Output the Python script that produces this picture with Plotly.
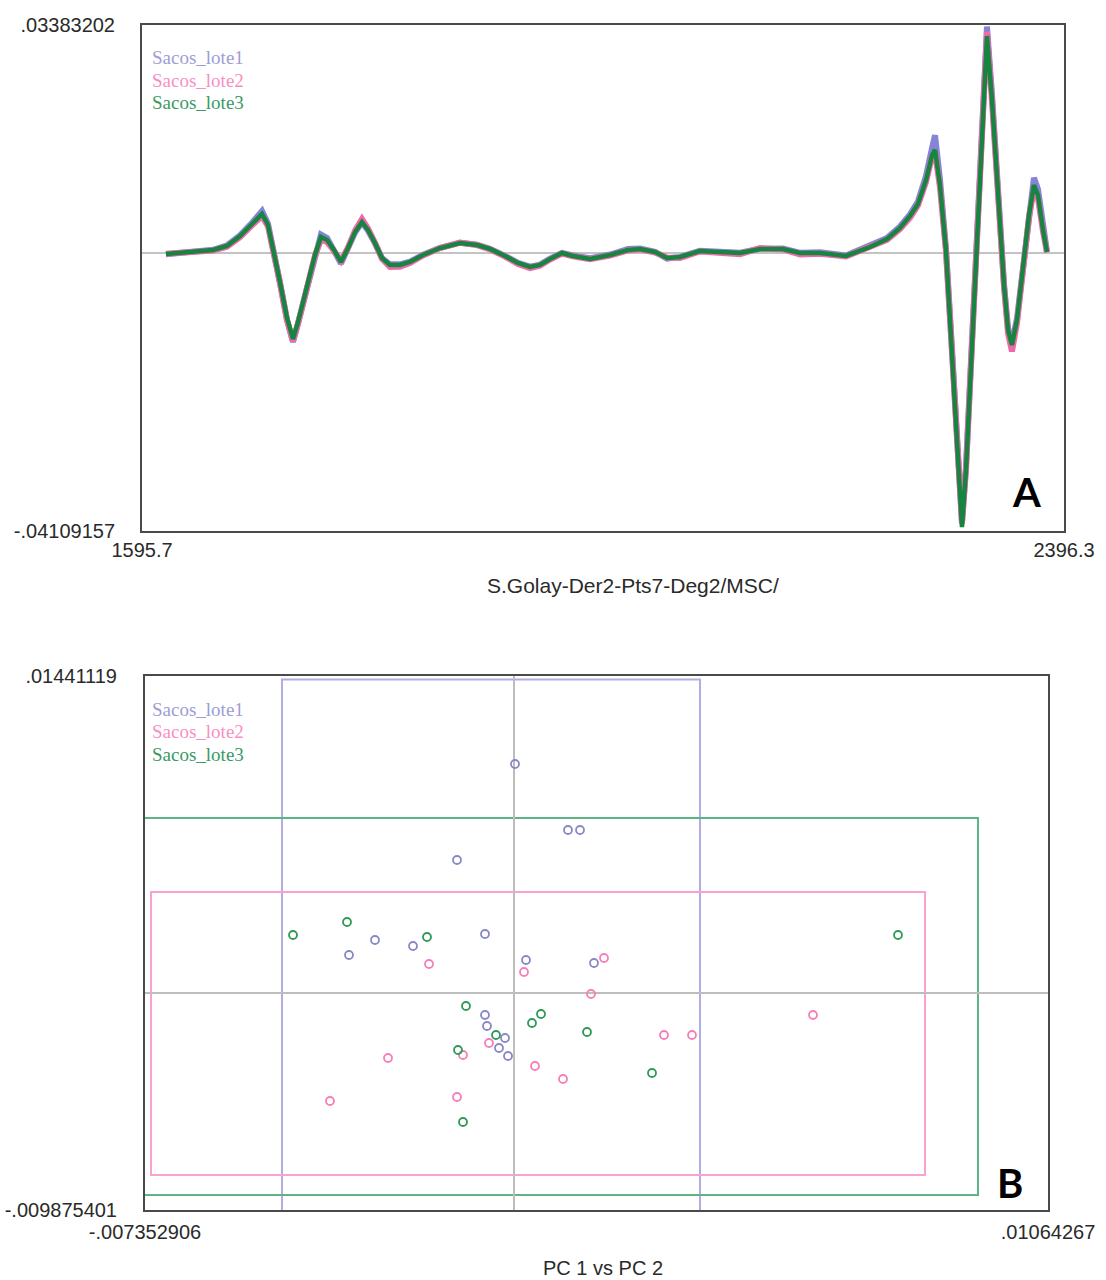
import plotly.graph_objects as go

# ---------------- Panel A: pretreated NIR spectra ----------------
wavelength = [1616.5, 1628.7, 1641.7, 1657.4, 1669.5, 1680.8, 1691.2, 1699.9, 1705.1, 1709.5,
              1715.5, 1721.6, 1726.8, 1731.2, 1735.5, 1740.7, 1745.9, 1751.1, 1756.4, 1762.4,
              1768.5, 1774.6, 1780.7, 1786.7, 1791.9, 1798.0, 1804.1, 1811.0, 1819.7, 1828.4,
              1839.7, 1854.5, 1871.8, 1886.6, 1897.9, 1910.9, 1922.2, 1932.6, 1941.3, 1950.0,
              1960.4, 1969.9, 1984.7, 2002.1, 2017.7, 2028.1, 2041.2, 2051.6, 2062.9, 2080.2,
              2097.6, 2115.0, 2132.3, 2152.3, 2167.1, 2184.4, 2207.0, 2227.8, 2242.6, 2253.9,
              2262.6, 2269.5, 2276.5, 2281.7, 2284.3, 2288.6, 2293.8, 2299.0, 2303.4, 2307.7,
              2311.2, 2315.5, 2320.7, 2325.1, 2329.4, 2333.8, 2339.0, 2344.2, 2347.7, 2351.1,
              2355.5, 2360.7, 2365.9, 2370.2, 2373.7, 2378.1, 2381.5]

spec_lote1 = [-0.00010, 0.00005, 0.00025, 0.00055, 0.00120, 0.00270, 0.00455, 0.00630, 0.00440, 0.00090,
              -0.00430, -0.00980, -0.01310, -0.01030, -0.00740, -0.00350, 0.00000, 0.00280, 0.00230, 0.00060,
              -0.00150, 0.00080, 0.00310, 0.00460, 0.00340, 0.00150, -0.00070, -0.00160, -0.00160, -0.00120,
              -0.00020, 0.00085, 0.00160, 0.00130, 0.00070, -0.00035, -0.00140, -0.00195, -0.00165, -0.00075,
              0.00010, -0.00030, -0.00070, -0.00015, 0.00065, 0.00075, 0.00025, -0.00075, -0.00050, 0.00040,
              0.00020, 0.00010, 0.00070, 0.00075, 0.00010, 0.00020, -0.00030, 0.00110, 0.00230, 0.00400,
              0.00580, 0.00770, 0.01150, 0.01560, 0.01750, 0.01100, 0.00080, -0.01400, -0.02580, -0.03980,
              -0.03150, -0.01700, 0.00080, 0.01900, 0.03360, 0.02350, 0.00820, -0.00450, -0.01100, -0.01320,
              -0.00960, -0.00220, 0.00600, 0.01120, 0.00950, 0.00380, 0.00030]

spec_lote2 = [-0.00005, 0.00010, 0.00020, 0.00045, 0.00100, 0.00240, 0.00415, 0.00555, 0.00400, 0.00070,
              -0.00440, -0.00990, -0.01300, -0.01040, -0.00750, -0.00370, -0.00030, 0.00200, 0.00170, 0.00040,
              -0.00110, 0.00090, 0.00340, 0.00510, 0.00370, 0.00160, -0.00080, -0.00200, -0.00195, -0.00140,
              -0.00030, 0.00080, 0.00160, 0.00125, 0.00060, -0.00045, -0.00155, -0.00215, -0.00180, -0.00090,
              0.00000, -0.00040, -0.00085, -0.00030, 0.00045, 0.00060, 0.00015, -0.00060, -0.00065, 0.00030,
              0.00010, -0.00010, 0.00080, 0.00060, -0.00015, -0.00005, -0.00045, 0.00090, 0.00200, 0.00360,
              0.00530, 0.00710, 0.01060, 0.01430, 0.01500, 0.00980, 0.00030, -0.01450, -0.02600, -0.04000,
              -0.03200, -0.01740, 0.00040, 0.01800, 0.03280, 0.02250, 0.00770, -0.00490, -0.01180, -0.01450,
              -0.01030, -0.00270, 0.00540, 0.00950, 0.00820, 0.00320, 0.00015]

spec_lote3 = [-0.00007, 0.00007, 0.00022, 0.00052, 0.00111, 0.00259, 0.00437, 0.00585, 0.00422, 0.00081,
              -0.00422, -0.00955, -0.01266, -0.01014, -0.00733, -0.00363, -0.00022, 0.00244, 0.00200, 0.00052,
              -0.00126, 0.00081, 0.00318, 0.00466, 0.00348, 0.00155, -0.00067, -0.00170, -0.00170, -0.00126,
              -0.00022, 0.00081, 0.00155, 0.00126, 0.00067, -0.00037, -0.00141, -0.00200, -0.00170, -0.00081,
              0.00007, -0.00037, -0.00081, -0.00022, 0.00052, 0.00067, 0.00022, -0.00067, -0.00052, 0.00037,
              0.00022, 0.00007, 0.00067, 0.00067, 0.00007, 0.00007, -0.00037, 0.00096, 0.00215, 0.00378,
              0.00555, 0.00733, 0.01088, 0.01458, 0.01533, 0.01014, 0.00052, -0.01429, -0.02613, -0.04050,
              -0.03206, -0.01725, 0.00052, 0.01829, 0.03220, 0.02273, 0.00792, -0.00466, -0.01133, -0.01355,
              -0.00985, -0.00244, 0.00570, 0.01014, 0.00866, 0.00348, 0.00022]

spec_xrange = [1595.7, 2396.3]
spec_yrange = [-0.04109157, 0.03383202]
spec_xticks = ["1595.7", "2396.3"]
spec_yticks = ["-.04109157", ".03383202"]

# ---------------- Panel B: PCA scores ----------------
pc1_lote1 = [0.0000207, 0.0010769, 0.0013161, -0.0011351, -0.0032874, -0.0027693, -0.0020120, -0.0005771,
             0.0002399, 0.0015951, -0.0005771, -0.0005373, -0.0001786, -0.0002981, -0.0001188]
pc2_lote1 = [0.0104089, 0.0074072, 0.0074072, 0.0060428, 0.0017221, 0.0024043, 0.0021315, 0.0026772,
             0.0014947, 0.0013583, -0.0010067, -0.0015070, -0.0020527, -0.0025075, -0.0028714]

pc1_lote2 = [-0.0016932, -0.0025102, -0.0010156, -0.0036661, -0.0011351, 0.0002001, 0.0017944, 0.0015353,
             -0.0004974, 0.0029901, 0.0035481, 0.0059595, 0.0004193, 0.0009773]
pc2_lote2 = [0.0013128, -0.0029624, -0.0028259, -0.0049180, -0.0047361, 0.0009490, 0.0015857, -0.0000516,
             -0.0022801, -0.0019163, -0.0019163, -0.0010067, -0.0033262, -0.0039174]

pc1_lote3 = [-0.0044035, -0.0033273, -0.0017330, -0.0009558, -0.0011152, -0.0010156, -0.0003579, 0.0005389,
             0.0003595, 0.0014556, 0.0027509, 0.0076534]
pc2_lote3 = [0.0026318, 0.0032230, 0.0025408, -0.0005974, -0.0025985, -0.0058731, -0.0019163, -0.0009612,
             -0.0013705, -0.0017799, -0.0036446, 0.0026318]

# class limit boxes: [pc1_min, pc1_max, pc2_min, pc2_max]
limits_lote1 = [-0.0046227, 0.0037075, -0.0105, 0.0142520]
limits_lote2 = [-0.0072333, 0.0081915, -0.0082836, 0.0045874]
limits_lote3 = [-0.0080, 0.0092477, -0.0091932, 0.0079530]

pc_xrange = [-0.007352906, 0.01064267]
pc_yrange = [-0.009875401, 0.01441119]
pc_xticks = ["-.007352906", ".01064267"]
pc_yticks = ["-.009875401", ".01441119"]

groups = ["Sacos_lote1", "Sacos_lote2", "Sacos_lote3"]

# ---------------- styling ----------------
line_colors = ["#8585d6", "#f06aaa", "#17843f"]
marker_colors = ["#8888c8", "#f57fb8", "#2f9a58"]
label_colors = ["#9d9dd4", "#f78fc4", "#3a9a64"]
box_colors = ["#aeaee4", "#fba0cf", "#5db486"]
tick_font = dict(family="Liberation Sans, Arial, sans-serif", size=20, color="#2a2a2a")
frame = dict(showline=True, linecolor="#4a4a4a", linewidth=2, mirror=True,
             showgrid=False, ticks="", tickfont=tick_font, automargin=False)

fig = go.Figure()

spectra = [spec_lote1, spec_lote2, spec_lote3]
widths = [6, 6, 4.5]
for name, vals, col, w in zip(groups, spectra, line_colors, widths):
    fig.add_trace(go.Scatter(x=wavelength, y=vals, mode="lines", name=name,
                             line=dict(color=col, width=w), xaxis="x", yaxis="y",
                             showlegend=False))

scores = [(pc1_lote1, pc2_lote1), (pc1_lote2, pc2_lote2), (pc1_lote3, pc2_lote3)]
for name, (px, py), col in zip(groups, scores, marker_colors):
    fig.add_trace(go.Scatter(x=px, y=py, mode="markers", name=name,
                             marker=dict(symbol="circle-open", size=8, color=col,
                                         line=dict(width=1.8, color=col)),
                             xaxis="x2", yaxis="y2", showlegend=False))

W, H = 1106, 1280

fig.update_layout(
    width=W, height=H,
    margin=dict(l=0, r=0, t=0, b=0, autoexpand=False),
    paper_bgcolor="white", plot_bgcolor="white",
    xaxis=dict(domain=[142 / W, 1064 / W], anchor="y", range=spec_xrange,
               tickvals=spec_xrange, ticktext=spec_xticks, ticklabelstandoff=0,
               zeroline=False, **frame),
    yaxis=dict(domain=[1 - 531 / H, 1 - 25 / H], anchor="x", range=spec_yrange,
               tickvals=spec_yrange, ticktext=spec_yticks, ticklabelstandoff=21,
               zeroline=True, zerolinecolor="#c4c4c4", zerolinewidth=1.5, **frame),
    xaxis2=dict(domain=[145 / W, 1048 / W], anchor="y2", range=pc_xrange,
                tickvals=pc_xrange, ticktext=pc_xticks, ticklabelstandoff=3,
                zeroline=True, zerolinecolor="#bdbdbd", zerolinewidth=2, **frame),
    yaxis2=dict(domain=[1 - 1210 / H, 1 - 676 / H], anchor="x2", range=pc_yrange,
                tickvals=pc_yrange, ticktext=pc_yticks, ticklabelstandoff=22,
                zeroline=True, zerolinecolor="#bdbdbd", zerolinewidth=2, **frame),
)

for lim, col in zip([limits_lote1, limits_lote2, limits_lote3], box_colors):
    fig.add_shape(type="rect", xref="x2", yref="y2",
                  x0=lim[0], x1=lim[1], y0=lim[2], y1=lim[3],
                  line=dict(color=col, width=2), fillcolor="rgba(0,0,0,0)", layer="below")

legend_font = "Liberation Serif, Times New Roman, serif"
for ys in ([58, 80, 102], [709, 731, 754]):
    for name, col, yp in zip(groups, label_colors, ys):
        fig.add_annotation(text=name, xref="paper", yref="paper", x=150 / W, y=1 - yp / H,
                           xanchor="left", yanchor="middle", showarrow=False,
                           font=dict(family=legend_font, size=19, color=col))

panel_font = dict(family="Lato, Open Sans, sans-serif", size=40, color="black", weight="bold")
fig.add_annotation(text="A", xref="paper", yref="paper", x=1026 / W, y=1 - 492 / H,
                   xanchor="center", yanchor="middle", showarrow=False, font=panel_font)
fig.add_annotation(text="B", xref="paper", yref="paper", x=1010 / W, y=1 - 1183 / H,
                   xanchor="center", yanchor="middle", showarrow=False, font=panel_font)

fig.add_annotation(text="S.Golay-Der2-Pts7-Deg2/MSC/", xref="paper", yref="paper",
                   x=633 / W, y=1 - 585 / H, xanchor="center", yanchor="middle",
                   showarrow=False,
                   font=dict(family="Liberation Sans, Arial, sans-serif", size=21, color="#2a2a2a"))
fig.add_annotation(text="PC 1 vs PC 2", xref="paper", yref="paper",
                   x=603 / W, y=1 - 1268 / H, xanchor="center", yanchor="middle",
                   showarrow=False,
                   font=dict(family="Liberation Sans, Arial, sans-serif", size=20, color="#2a2a2a"))

fig.write_html("out.html")
